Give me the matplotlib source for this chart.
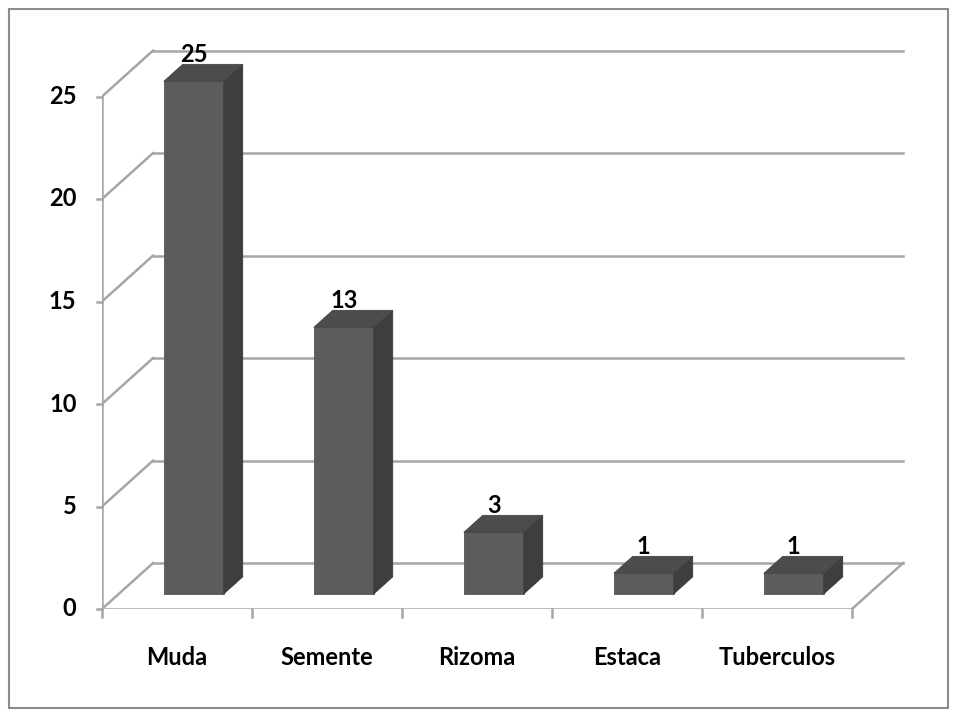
import matplotlib
matplotlib.use("Agg")
import matplotlib.pyplot as plt
from matplotlib.patches import Polygon, Rectangle

plt.rcParams['font.family'] = ['Lato', 'DejaVu Sans']

# ── Data ───────────────────────────────────────────────────────────────────
categories = ["Muda", "Semente", "Rizoma", "Estaca", "Tuberculos"]
values     = [25, 13, 3, 1, 1]
y_ticks    = [0, 5, 10, 15, 20, 25]

# ── 3D look (offsets in data units for full depth) ────────────────────────
DX, DY   = 0.34, 2.24       # back wall shift
F0, F1   = 0.33, 0.70       # bar front / back depth fraction
HALF_W   = 0.20
GRID_C   = "#a6a6a6"
FRONT_C  = "#5c5c5c"
SIDE_C   = "#3e3e3e"
TOP_C    = "#4c4c4c"
FS       = 17

fig = plt.figure(figsize=(9.6, 7.2), dpi=100)
ax = fig.add_axes([102 / 960, 111 / 720, 810 / 960, 27.5 * 20.5 / 720])
ax.set_xlim(-0.5, 4.9)
ax.set_ylim(0, 27.5)
ax.axis("off")

n = len(categories)
x0, x1 = -0.5, n - 0.5

# walls / gridlines
for v in y_ticks:
    ax.plot([x0 + DX, x1 + DX], [v + DY, v + DY], color=GRID_C, lw=1.8, zorder=1)
    ax.plot([x0, x0 + DX], [v, v + DY], color=GRID_C, lw=1.8, zorder=1)
    ax.plot([x0 - 0.035, x0], [v, v], color=GRID_C, lw=1.8, zorder=1, clip_on=False)
    ax.text(x0 - 0.17, v, str(v), ha="right", va="center",
            fontsize=FS, fontweight="bold", clip_on=False)

# floor + axes
ax.plot([x0, x0], [0, y_ticks[-1]], color=GRID_C, lw=1.8, zorder=1)
ax.plot([x0, x1], [0, 0], color=GRID_C, lw=1.8, zorder=1)
ax.plot([x1, x1 + DX], [0, DY], color=GRID_C, lw=1.8, zorder=1)
for k in range(n + 1):
    xt = x0 + k
    ax.plot([xt, xt], [0, -0.4], color=GRID_C, lw=1.8, zorder=1, clip_on=False)

# bars
for i, (cat, v) in enumerate(zip(categories, values)):
    fl, fr = i - HALF_W + F0 * DX, i + HALF_W + F0 * DX
    fb, ft = F0 * DY, v + F0 * DY
    bx, by = (F1 - F0) * DX, (F1 - F0) * DY
    front = Polygon([(fl, fb), (fr, fb), (fr, ft), (fl, ft)], closed=True,
                    facecolor=FRONT_C, edgecolor="#555555", lw=0.6, zorder=3)
    side = Polygon([(fr, fb), (fr + bx, fb + by), (fr + bx, ft + by), (fr, ft)],
                   closed=True, facecolor=SIDE_C, edgecolor="#3a3a3a", lw=0.6, zorder=3)
    top = Polygon([(fl, ft), (fr, ft), (fr + bx, ft + by), (fl + bx, ft + by)],
                  closed=True, facecolor=TOP_C, edgecolor="#444444", lw=0.6, zorder=3)
    for p in (front, side, top):
        ax.add_patch(p)
    ax.text((fl + fr) / 2, ft + by + 0.5, str(v), ha="center", va="center",
            fontsize=FS, fontweight="bold", zorder=4)
    ax.text(i, -2.35, cat, ha="center", va="center",
            fontsize=FS, fontweight="bold", clip_on=False)

# chart border
fig.patches.append(Rectangle((9 / 960, 12 / 720), 939 / 960, 699 / 720,
                             transform=fig.transFigure, fill=False,
                             edgecolor="#8c8c8c", lw=1.5))

fig.savefig("out.png", dpi=100)
